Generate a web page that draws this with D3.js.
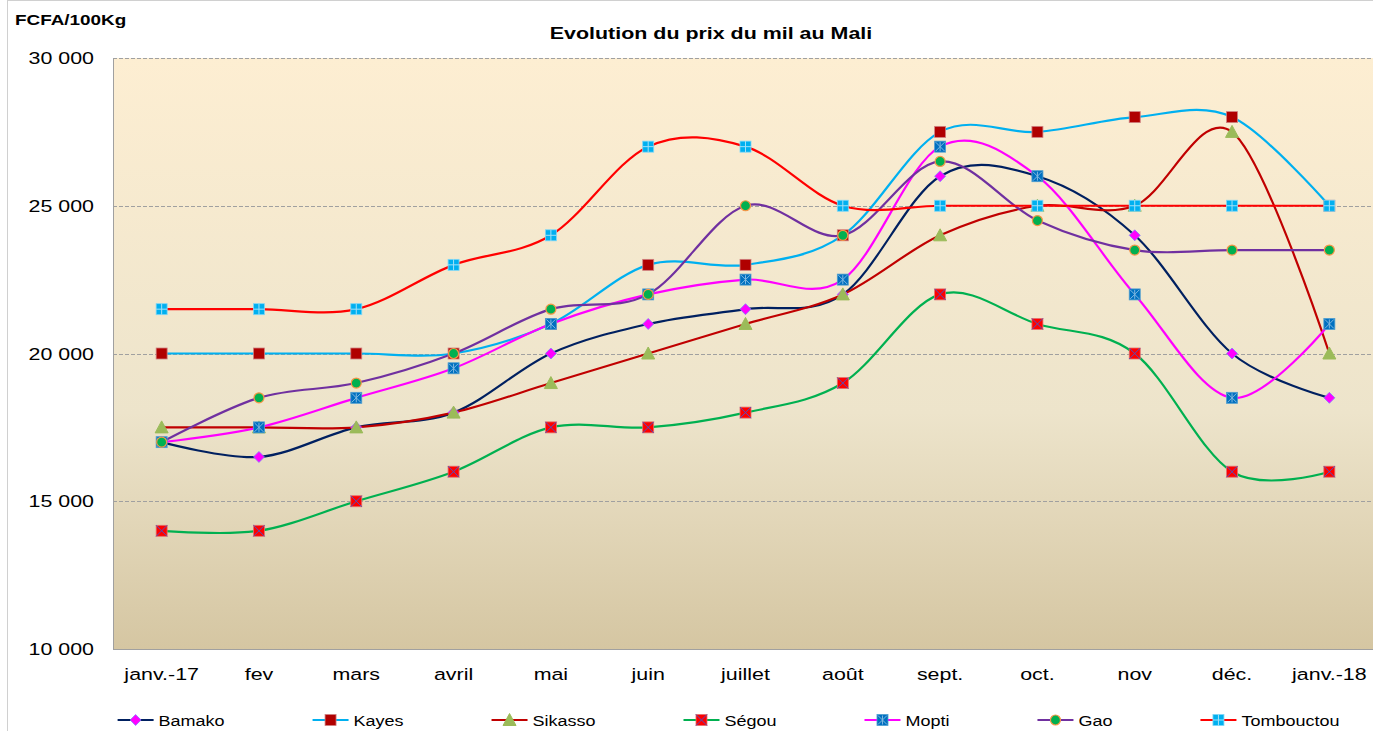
<!DOCTYPE html>
<html lang="fr">
<head>
<meta charset="UTF-8">
<title>Evolution du prix du mil au Mali</title>
<style>
    body { margin: 0; padding: 0; background: #fff; font-family: "Liberation Sans", Arial, sans-serif; }
    svg { display: block; }
</style>
</head>
<body>
<div id="chart"></div>
<script src="https://d3js.org/d3.v7.min.js"></script>
<script>
const months = ["janv.-17", "fev", "mars", "avril", "mai", "juin", "juillet", "août", "sept.", "oct.", "nov", "déc.", "janv.-18"];
const bamako     = [17000, 16500, 17500, 18000, 20000, 21000, 21500, 22000, 26000, 26000, 24000, 20000, 18500];
const kayes      = [20000, 20000, 20000, 20000, 21000, 23000, 23000, 24000, 27500, 27500, 28000, 28000, 25000];
const sikasso    = [17500, 17500, 17500, 18000, 19000, 20000, 21000, 22000, 24000, 25000, 25000, 27500, 20000];
const segou      = [14000, 14000, 15000, 16000, 17500, 17500, 18000, 19000, 22000, 21000, 20000, 16000, 16000];
const mopti      = [17000, 17500, 18500, 19500, 21000, 22000, 22500, 22500, 27000, 26000, 22000, 18500, 21000];
const gao        = [17000, 18500, 19000, 20000, 21500, 22000, 25000, 24000, 26500, 24500, 23500, 23500, 23500];
const tombouctou = [21500, 21500, 21500, 23000, 24000, 27000, 27000, 25000, 25000, 25000, 25000, 25000, 25000];
const yTicks = [10000, 15000, 20000, 25000, 30000];

const series = [
    { name: "Bamako", values: bamako, line: "#002060", marker: "diamond", fill: "#FF00FF", stroke: "#7F7FFF" },
    { name: "Kayes", values: kayes, line: "#00B0F0", marker: "square", fill: "#B00000", stroke: "#D08080" },
    { name: "Sikasso", values: sikasso, line: "#C00000", marker: "triangle", fill: "#9BBB59", stroke: "#9BBB59" },
    { name: "Ségou", values: segou, line: "#00B050", marker: "xsquare", fill: "#FF0000", stroke: "#E07070" },
    { name: "Mopti", values: mopti, line: "#FF00FF", marker: "star", fill: "#0070C0", stroke: "#4F9FD0" },
    { name: "Gao", values: gao, line: "#7030A0", marker: "circle", fill: "#00B050", stroke: "#F79646" },
    { name: "Tombouctou", values: tombouctou, line: "#FF0000", marker: "cross", fill: "#00B0F0", stroke: "#7FD7F7" }
];

const W = 1373, H = 731;
const plot = { left: 113, right: 1378, top: 58, bottom: 649 };
const STRETCH = 1.26; // the source picture is widened, so text is too

const svg = d3.select("#chart").append("svg")
    .attr("width", W)
    .attr("height", H);

// outer chart frame
svg.append("rect")
    .attr("x", 7.5).attr("y", 0.5)
    .attr("width", W).attr("height", H + 10)
    .attr("fill", "none")
    .attr("stroke", "#d0d0d0");

const defs = svg.append("defs");
const grad = defs.append("linearGradient")
    .attr("id", "bg").attr("x1", 0).attr("y1", 0).attr("x2", 0).attr("y2", 1);
grad.append("stop").attr("offset", "0%").attr("stop-color", "#FDEED2");
grad.append("stop").attr("offset", "60%").attr("stop-color", "#EDE4CB");
grad.append("stop").attr("offset", "100%").attr("stop-color", "#D5C6A2");

const x = d3.scaleBand()
    .domain(months)
    .range([plot.left, plot.right]);

const y = d3.scaleLinear()
    .domain([10000, 30000])
    .range([plot.bottom, plot.top]);

const cx = d => x(d) + x.bandwidth() / 2;

// widened text helper
function wtext(parent, tx, ty, str, size, anchor, bold, k) {
    return parent.append("text")
        .attr("transform", `translate(${tx},${ty}) scale(${k || STRETCH},1)`)
        .attr("text-anchor", anchor || "start")
        .attr("font-size", size)
        .attr("font-weight", bold ? "bold" : null)
        .attr("fill", "#000")
        .text(str);
}

svg.append("rect")
    .attr("x", plot.left).attr("y", plot.top)
    .attr("width", plot.right - plot.left)
    .attr("height", plot.bottom - plot.top)
    .attr("fill", "url(#bg)");

// gridlines
svg.append("g")
    .selectAll("line")
    .data(yTicks.filter(t => t > 10000))
    .join("line")
    .attr("x1", plot.left).attr("x2", plot.right)
    .attr("y1", d => Math.round(y(d)) + 0.5).attr("y2", d => Math.round(y(d)) + 0.5)
    .attr("stroke", "#A0A0A0")
    .attr("stroke-dasharray", "4,2");

// axis lines
svg.append("line")
    .attr("x1", plot.left + 0.5).attr("x2", plot.left + 0.5)
    .attr("y1", plot.top).attr("y2", plot.bottom)
    .attr("stroke", "#A0A0A0");
svg.append("line")
    .attr("x1", plot.left).attr("x2", plot.right)
    .attr("y1", plot.bottom + 0.5).attr("y2", plot.bottom + 0.5)
    .attr("stroke", "#A0A0A0");

const fmt = v => d3.format(",")(v).replace(/,/g, " ");

const yLab = svg.append("g");
yTicks.forEach(t => wtext(yLab, 94, y(t) + 6, fmt(t), 17, "end"));

const xLab = svg.append("g");
months.forEach(m => wtext(xLab, cx(m), 680, m, 17, "middle"));

wtext(svg, 711, 39, "Evolution du prix du mil au Mali", 17, "middle", true);
wtext(svg, 15, 25, "FCFA/100Kg", 15, "start", true);

function drawMarker(g, s, px, py) {
    const m = g.append("g").attr("transform", `translate(${px},${py})`);
    const h = 5.5;
    if (s.marker === "diamond") {
        m.append("path").attr("d", `M0,${-h}L${h},0L0,${h}L${-h},0Z`)
            .attr("fill", s.fill).attr("stroke", s.stroke).attr("stroke-width", 0.8);
    } else if (s.marker === "triangle") {
        m.append("path").attr("d", `M0,${-h - 1}L${h + 1},${h}L${-h - 1},${h}Z`)
            .attr("fill", s.fill).attr("stroke", s.stroke);
    } else if (s.marker === "circle") {
        m.append("circle").attr("r", h - 0.5)
            .attr("fill", s.fill).attr("stroke", s.stroke).attr("stroke-width", 1.2);
    } else {
        m.append("rect").attr("x", -h).attr("y", -h).attr("width", 2 * h).attr("height", 2 * h)
            .attr("fill", s.fill).attr("stroke", s.stroke).attr("stroke-width", 0.8);
        if (s.marker === "xsquare") {
            m.append("path").attr("d", `M${-h},${-h}L${h},${h}M${h},${-h}L${-h},${h}`)
                .attr("stroke", "#5050C0").attr("stroke-width", 1);
        } else if (s.marker === "star") {
            m.append("path").attr("d", `M${-h + 1},${-h + 1}L${h - 1},${h - 1}M${h - 1},${-h + 1}L${-h + 1},${h - 1}M0,${-h + 1}L0,${h - 1}`)
                .attr("stroke", "#7FB8E0").attr("stroke-width", 1);
        } else if (s.marker === "cross") {
            m.append("path").attr("d", `M0,${-h}L0,${h}M${-h},0L${h},0`)
                .attr("stroke", "#A0E0F8").attr("stroke-width", 1);
        }
    }
}

const line = d3.line()
    .x((d, i) => cx(months[i]))
    .y(d => y(d))
    .curve(d3.curveCardinal.tension(0));

const linesG = svg.append("g");
series.forEach(s => {
    linesG.append("path")
        .datum(s.values)
        .attr("fill", "none")
        .attr("stroke", s.line)
        .attr("stroke-width", 2.2)
        .attr("d", line);
});

const markG = svg.append("g");
series.forEach(s => {
    s.values.forEach((v, i) => drawMarker(markG, s, cx(months[i]), y(v)));
});

// legend
const legend = svg.append("g");
const ly = 720;
const gap = 88;
const lk = 1.2;
let lx = 0;
series.forEach(s => {
    const item = legend.append("g");
    item.append("line").attr("x1", 0).attr("x2", 36).attr("y1", ly).attr("y2", ly)
        .attr("stroke", s.line).attr("stroke-width", 2.2);
    drawMarker(item, s, 18, ly);
    const t = wtext(item, 41, ly + 5.5, s.name, 15, "start", false, lk);
    const w = 41 + t.node().getComputedTextLength() * lk;
    item.attr("transform", `translate(${lx},0)`);
    lx += w + gap;
});
const total = lx - gap;
legend.attr("transform", `translate(${728.5 - total / 2},0)`);
</script>
</body>
</html>
